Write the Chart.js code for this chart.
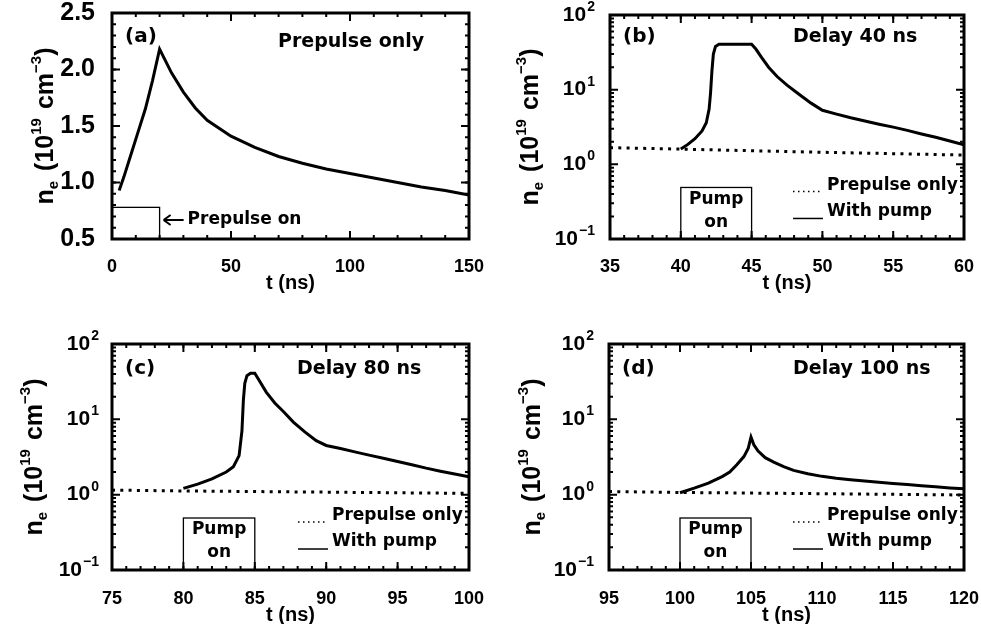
<!DOCTYPE html>
<html>
<head>
<meta charset="utf-8">
<script src="https://cdn.jsdelivr.net/npm/chart.js@4.4.0/dist/chart.umd.min.js"></script>
<style>
  body { margin: 0; background: #fff; }
  #wrap { position: relative; width: 981px; height: 624px; overflow: hidden; background: #fff; }
  canvas { position: absolute; }
</style>
</head>
<body>
<div id="wrap">
  <canvas id="pa" width="490" height="312" style="left:0;top:0"></canvas>
  <canvas id="pb" width="491" height="312" style="left:490px;top:0"></canvas>
  <canvas id="pc" width="490" height="312" style="left:0;top:312px"></canvas>
  <canvas id="pd" width="491" height="312" style="left:490px;top:312px"></canvas>
</div>
<script>
// (a) prepulse only
const tA  = [3, 5, 8, 11, 14, 17, 20, 25, 30, 35, 40, 50, 60, 70, 80, 90, 100, 110, 120, 130, 140, 150];
const neA = [0.93, 1.05, 1.25, 1.45, 1.65, 1.9, 2.18, 1.97, 1.8, 1.66, 1.55, 1.41, 1.31, 1.23, 1.17, 1.12, 1.08, 1.04, 1.0, 0.96, 0.93, 0.89];

// (b) delay 40 ns
const tB_pre  = [35, 40, 45, 50, 55, 60];
const neB_pre = [1.67, 1.6, 1.52, 1.45, 1.39, 1.33];
const tB  = [40, 40.5, 41, 41.5, 41.8, 42.0, 42.1, 42.2, 42.3, 42.45, 42.7, 45, 45.3, 45.7, 46.2, 46.8, 47.5, 48.3, 49.2, 50, 51, 52, 53, 54, 55, 56, 57, 58, 59, 60];
const neB = [1.6, 1.85, 2.2, 2.8, 3.6, 5.5, 9, 18, 30, 38, 40.5, 40.5, 35, 27, 20, 15, 11.5, 8.8, 6.6, 5.3, 4.7, 4.2, 3.8, 3.45, 3.15, 2.85, 2.55, 2.3, 2.05, 1.82];

// (c) delay 80 ns
const tC_pre  = [75, 80, 85, 90, 95, 100];
const neC_pre = [1.15, 1.12, 1.1, 1.08, 1.06, 1.04];
const tC  = [80, 81, 82, 83, 83.5, 83.9, 84.1, 84.2, 84.3, 84.45, 84.7, 85, 85.3, 85.8, 86.4, 87, 87.7, 88.5, 89.3, 90, 91, 92, 93, 94, 95, 96, 97, 98, 99, 100];
const neC = [1.21, 1.38, 1.62, 2.0, 2.35, 3.3, 7, 18, 30, 38, 41, 41, 33, 23, 16.5, 12.7, 9.2, 6.8, 5.2, 4.5, 4.1, 3.7, 3.35, 3.05, 2.75, 2.5, 2.25, 2.05, 1.88, 1.73];

// (d) delay 100 ns
const tD_pre  = [95, 100, 105, 110, 115, 120];
const neD_pre = [1.1, 1.07, 1.05, 1.03, 1.01, 0.99];
const tD  = [100, 101, 102, 103, 103.5, 104, 104.5, 104.8, 105, 105.2, 105.5, 106, 106.6, 107.3, 108, 109, 110, 111, 112, 113, 114, 115, 116, 117, 118, 119, 120];
const neD = [1.06, 1.22, 1.42, 1.75, 2.0, 2.5, 3.2, 4.1, 5.8, 4.6, 3.8, 3.1, 2.7, 2.35, 2.1, 1.9, 1.75, 1.65, 1.58, 1.52, 1.46, 1.41, 1.36, 1.31, 1.27, 1.23, 1.2];

const logTicks = [0.1, 1, 10, 100];
const logTickExp = ['\u22121', '0', '1', '2'];
const panelTags = ['(a)', '(b)', '(c)', '(d)'];
const panelNotes = ['Prepulse only', 'Delay 40 ns', 'Delay 80 ns', 'Delay 100 ns'];
const pumpOn = [[40, 45], [80, 85], [100, 105]];
const pumpBoxTop = 0.49;
const prepulseOn = [0, 20];
const prepulseBoxTop = 0.78;

const LIB = '"Liberation Sans", Arial, sans-serif';
const DJV = '"DejaVu Sans", sans-serif';

const pts = (t, v) => t.map((x, i) => ({ x: x, y: v[i] }));

function txt(c, s, x, y, font, align) {
  c.font = font;
  c.textAlign = align || 'left';
  c.textBaseline = 'middle';
  c.fillStyle = '#000';
  c.fillText(s, x, y);
}

function yTitle(c, x, cy) {
  const segs = [
    { t: 'n', f: 25, dy: 0 },
    { t: 'e', f: 15, dy: 5 },
    { gap: 10 },
    { t: '(10', f: 25, dy: 0 },
    { t: '19', f: 15, dy: -12 },
    { gap: 9 },
    { t: 'cm', f: 25, dy: 0 },
    { t: '\u22123', f: 15, dy: -12 },
    { t: ')', f: 25, dy: 0 }
  ];
  let w = 0;
  segs.forEach(s => {
    if (s.gap) { w += s.gap; return; }
    c.font = 'bold ' + s.f + 'px ' + LIB;
    s.w = c.measureText(s.t).width;
    w += s.w;
  });
  c.save();
  c.translate(x, cy);
  c.rotate(-Math.PI / 2);
  c.fillStyle = '#000';
  c.textAlign = 'left';
  c.textBaseline = 'alphabetic';
  let p = -w / 2;
  segs.forEach(s => {
    if (s.gap) { p += s.gap; return; }
    c.font = 'bold ' + s.f + 'px ' + LIB;
    c.fillText(s.t, p, s.dy);
    p += s.w;
  });
  c.restore();
}

function range(a, b, step) {
  const out = [];
  for (let v = a; v <= b + 1e-9; v += step) out.push(+v.toFixed(6));
  return out;
}

function decor(cfg) {
  return {
    id: 'decor' + cfg.id,
    afterDraw(ch) {
      const c = ch.ctx, a = ch.chartArea, xs = ch.scales.x, ys = ch.scales.y;
      c.save();
      c.strokeStyle = '#000';
      // inward ticks on all four sides
      c.lineWidth = 2;
      const xt = (vals, len) => vals.forEach(v => {
        const p = xs.getPixelForValue(v);
        c.beginPath();
        c.moveTo(p, a.bottom); c.lineTo(p, a.bottom - len);
        c.moveTo(p, a.top); c.lineTo(p, a.top + len);
        c.stroke();
      });
      const yt = (vals, len) => vals.forEach(v => {
        const p = ys.getPixelForValue(v);
        c.beginPath();
        c.moveTo(a.left, p); c.lineTo(a.left + len, p);
        c.moveTo(a.right, p); c.lineTo(a.right - len, p);
        c.stroke();
      });
      xt(range(cfg.xmin, cfg.xmax, cfg.xminor), 4);
      xt(range(cfg.xmin, cfg.xmax, cfg.xstep), 8);
      if (cfg.log) {
        const minors = [];
        [0.1, 1, 10].forEach(d => { for (let k = 2; k <= 9; k++) minors.push(d * k); });
        yt(minors, 4);
        yt(logTicks, 8);
        logTicks.forEach((v, i) => {
          const p = ys.getPixelForValue(v);
          const right = a.left - cfg.labGap;
          c.font = 'bold 14px ' + LIB;
          const sw = c.measureText(logTickExp[i]).width;
          txt(c, logTickExp[i], right, p - 8, 'bold 14px ' + LIB, 'right');
          txt(c, '10', right - sw - 1, p, 'bold 21px ' + LIB, 'right');
        });
      } else {
        yt(range(0.5, 2.5, 0.1), 4);
        yt(range(0.5, 2.5, 0.5), 8);
      }
      // frame
      c.lineWidth = 3;
      c.strokeRect(a.left, a.top, a.right - a.left, a.bottom - a.top);

      // axis titles
      yTitle(c, cfg.ytx, (a.top + a.bottom) / 2);
      txt(c, 't (ns)', (a.left + a.right) / 2, cfg.xty, 'bold 20px ' + LIB, 'center');

      // panel tag and note
      txt(c, panelTags[cfg.k], a.left + 13, cfg.tagY, 'bold 20px ' + DJV, 'left');
      txt(c, panelNotes[cfg.k], cfg.noteX, cfg.tagY + (cfg.k === 0 ? 5 : 0), 'bold 19px ' + DJV, 'left');

      c.lineWidth = 1.3;
      if (cfg.k === 0) {
        const x0 = xs.getPixelForValue(prepulseOn[0]), x1 = xs.getPixelForValue(prepulseOn[1]);
        const yb = ys.getPixelForValue(prepulseBoxTop);
        c.strokeRect(x0, yb, x1 - x0, a.bottom - yb);
        const ay = 220;
        c.lineWidth = 2;
        c.beginPath();
        c.moveTo(x1 + 4, ay); c.lineTo(x1 + 24, ay);
        c.moveTo(x1 + 4, ay); c.lineTo(x1 + 11, ay - 5);
        c.moveTo(x1 + 4, ay); c.lineTo(x1 + 11, ay + 5);
        c.stroke();
        txt(c, 'Prepulse on', x1 + 28, ay, 'bold 17px ' + DJV, 'left');
      } else {
        const on = pumpOn[cfg.k - 1];
        const x0 = xs.getPixelForValue(on[0]), x1 = xs.getPixelForValue(on[1]);
        const yb = ys.getPixelForValue(pumpBoxTop);
        c.strokeRect(x0, yb, x1 - x0, a.bottom - yb);
        const xm = (x0 + x1) / 2;
        txt(c, 'Pump', xm, yb + 12, 'bold 17px ' + DJV, 'center');
        txt(c, 'on', xm, yb + 35, 'bold 17px ' + DJV, 'center');
        // legend
        const lx = cfg.legX, ly = yb - 2;
        c.lineWidth = 1.5;
        c.setLineDash([1.5, 3.5]);
        c.beginPath(); c.moveTo(lx, ly + 6); c.lineTo(lx + 30, ly + 6); c.stroke();
        c.setLineDash([]);
        c.beginPath(); c.moveTo(lx, ly + 33); c.lineTo(lx + 30, ly + 33); c.stroke();
        txt(c, 'Prepulse only', lx + 34, ly, 'bold 17px ' + DJV, 'left');
        txt(c, 'With pump', lx + 34, ly + 26, 'bold 17px ' + DJV, 'left');
      }
      c.restore();
    }
  };
}

function panel(cfg) {
  const font = { family: LIB, weight: 'bold', size: 18, lineHeight: 1 };
  const sets = cfg.sets.map(s => ({
    data: s.data,
    borderColor: '#000',
    borderWidth: 3,
    borderDash: s.dotted ? [3, 5.3] : [],
    borderCapStyle: 'butt',
    pointRadius: 0,
    tension: 0,
    fill: false
  }));
  new Chart(document.getElementById(cfg.id), {
    type: 'line',
    data: { datasets: sets },
    options: {
      responsive: false,
      animation: false,
      events: [],
      layout: { padding: { left: 0, top: cfg.top, right: cfg.right, bottom: 0 } },
      plugins: { legend: { display: false }, tooltip: { enabled: false } },
      scales: {
        x: {
          type: 'linear', min: cfg.xmin, max: cfg.xmax,
          grid: { display: false }, border: { display: false },
          ticks: { stepSize: cfg.xstep, font: font, color: '#000', padding: cfg.xpad, maxRotation: 0, autoSkip: false },
          afterFit: s => { s.height = cfg.xh; s.paddingLeft = 0; s.paddingRight = 0; }
        },
        y: cfg.log ? {
          type: 'logarithmic', min: 0.1, max: 100,
          grid: { display: false }, border: { display: false },
          ticks: { display: false },
          afterFit: s => { s.width = cfg.yw; s.paddingTop = 0; s.paddingBottom = 0; }
        } : {
          type: 'linear', min: 0.5, max: 2.5,
          grid: { display: false }, border: { display: false },
          ticks: { stepSize: 0.5, font: { family: LIB, weight: 'bold', size: 25, lineHeight: 1 }, color: '#000', padding: 9,
                   callback: v => v.toFixed(1) },
          afterFit: s => { s.width = cfg.yw; s.paddingTop = 0; s.paddingBottom = 0; }
        }
      }
    },
    plugins: [decor(cfg)]
  });
}

panel({ id: 'pa', k: 0, log: false, top: 13, right: 21, xh: 73, yw: 112, xpad: 11,
  xmin: 0, xmax: 150, xstep: 50, xminor: 10, ytx: 53, xty: 283, tagY: 37, noteX: 278,
  sets: [{ data: pts(tA, neA) }] });

panel({ id: 'pb', k: 1, log: true, top: 15, right: 17, xh: 73, yw: 120, xpad: 11, labGap: 15,
  xmin: 35, xmax: 60, xstep: 5, xminor: 1, ytx: 48, xty: 283, tagY: 37, noteX: 303, legX: 303,
  sets: [{ data: pts(tB_pre, neB_pre), dotted: true }, { data: pts(tB, neB) }] });

panel({ id: 'pc', k: 2, log: true, top: 32, right: 21, xh: 54, yw: 112, xpad: 12, labGap: 13,
  xmin: 75, xmax: 100, xstep: 5, xminor: 1, ytx: 42, xty: 303, tagY: 57, noteX: 297, legX: 298,
  sets: [{ data: pts(tC_pre, neC_pre), dotted: true }, { data: pts(tC, neC) }] });

panel({ id: 'pd', k: 3, log: true, top: 32, right: 17, xh: 54, yw: 119, xpad: 12, labGap: 15,
  xmin: 95, xmax: 120, xstep: 5, xminor: 1, ytx: 50, xty: 303, tagY: 57, noteX: 303, legX: 303,
  sets: [{ data: pts(tD_pre, neD_pre), dotted: true }, { data: pts(tD, neD) }] });
</script>
</body>
</html>
